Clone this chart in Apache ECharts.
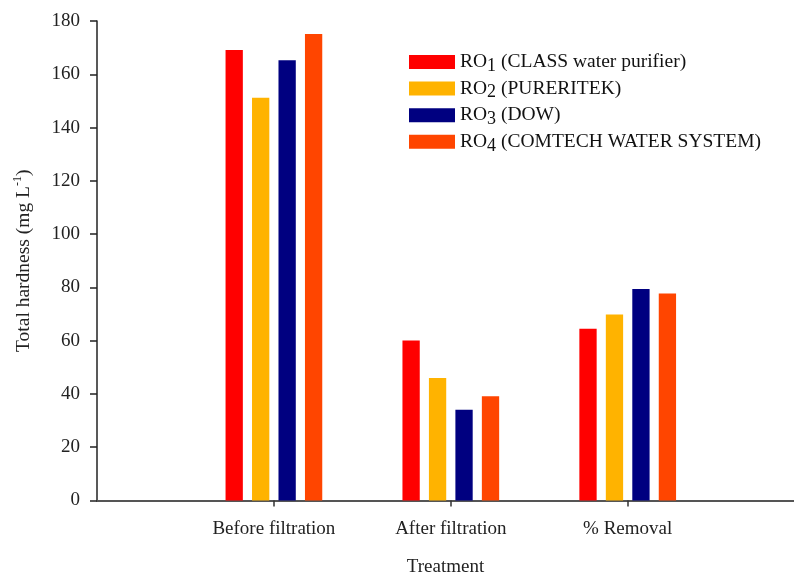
<!DOCTYPE html>
<html>
<head>
    <meta charset="utf-8">
    <title>Total hardness</title>
    <script src="https://cdn.jsdelivr.net/npm/echarts@6/dist/echarts.min.js"></script>
    <style>
        html, body { margin: 0; padding: 0; background: #fff; }
    </style>
</head>
<body>
<div id="main" style="width: 794px;height:575px;"></div>
<script type="text/javascript">
    // categories sit at x = 1, 2, 3 on a value axis (the axis runs past the last group)
    var categories = ['Before filtration', 'After filtration', '% Removal'];
    var ro1 = [169.1, 60.1, 64.5];
    var ro2 = [151.2, 46.0, 69.8];
    var ro3 = [165.3, 34.1, 79.4];
    var ro4 = [175.1, 39.1, 77.7];
    var seriesNames = ['RO1', 'RO2', 'RO3', 'RO4'];
    var legendText = [
        '{m|RO}{s|1}{m| (CLASS water purifier)}',
        '{m|RO}{s|2}{m| (PURERITEK)}',
        '{m|RO}{s|3}{m| (DOW)}',
        '{m|RO}{s|4}{m| (COMTECH WATER SYSTEM)}'
    ];
    var colors = ['#ff0000', '#ffb300', '#000080', '#ff4500'];
    var yTicks = [0, 20, 40, 60, 80, 100, 120, 140, 160, 180];

    var font = '"Liberation Serif", "Times New Roman", serif';
    var myChart = echarts.init(document.getElementById('main'));

    function toPoints(arr) {
        var out = [];
        for (var i = 0; i < arr.length; i++) {
            out.push([i + 1, arr[i]]);
        }
        return out;
    }

    var allData = [ro1, ro2, ro3, ro4];
    var series = [];
    for (var k = 0; k < allData.length; k++) {
        series.push({
            name: seriesNames[k],
            type: 'bar',
            data: toPoints(allData[k]),
            barWidth: 17.3,
            barGap: '53%',
            itemStyle: { color: colors[k] }
        });
    }

    var option = {
        animation: false,
        backgroundColor: '#fff',
        grid: {
            left: 97,
            right: 0,
            top: 21,
            bottom: 74.5,
            outerBoundsMode: 'none'
        },
        legend: {
            orient: 'vertical',
            left: 404,
            top: 44,
            itemWidth: 46,
            itemHeight: 14,
            itemGap: 0.6,
            icon: 'rect',
            data: seriesNames,
            formatter: function (name) {
                return legendText[seriesNames.indexOf(name)];
            },
            textStyle: {
                fontFamily: font,
                fontSize: 19.5,
                color: '#111',
                lineHeight: 20,
                rich: {
                    m: {
                        fontFamily: font,
                        fontSize: 19.5,
                        color: '#111',
                        lineHeight: 20
                    },
                    s: {
                        fontFamily: font,
                        fontSize: 18,
                        color: '#111',
                        lineHeight: 12,
                        padding: [8, 0, 0, 0]
                    }
                }
            }
        },
        xAxis: {
            type: 'value',
            min: 0,
            max: 3.94,
            interval: 1,
            splitLine: { show: false },
            axisLine: { lineStyle: { color: '#555', width: 2 } },
            axisTick: {
                show: true,
                length: 6,
                customValues: [1, 2, 3],
                lineStyle: { color: '#333', width: 1.5 }
            },
            axisLabel: {
                customValues: [1, 2, 3],
                margin: 19,
                fontFamily: font,
                fontSize: 19,
                color: '#222',
                formatter: function (v) {
                    var i = Math.round(v) - 1;
                    return categories[i] || '';
                }
            },
            name: 'Treatment',
            nameLocation: 'middle',
            nameGap: 57,
            nameTextStyle: { fontFamily: font, fontSize: 19, color: '#222' }
        },
        yAxis: {
            type: 'value',
            min: yTicks[0],
            max: yTicks[yTicks.length - 1],
            interval: 20,
            splitLine: { show: false },
            axisLine: { show: true, lineStyle: { color: '#222', width: 1.5 } },
            axisTick: { show: true, length: 7, lineStyle: { color: '#222', width: 1.5 } },
            axisLabel: {
                margin: 17,
                fontFamily: font,
                fontSize: 19,
                color: '#222'
            },
            name: 'Total hardness (mg L{sup|-1})',
            nameLocation: 'middle',
            nameGap: 61,
            nameTextStyle: {
                fontFamily: font,
                fontSize: 19.5,
                color: '#222',
                rich: {
                    sup: {
                        fontFamily: font,
                        fontSize: 12,
                        color: '#222',
                        verticalAlign: 'top',
                        lineHeight: 24
                    }
                }
            }
        },
        series: series
    };

    myChart.setOption(option);
</script>
</body>
</html>
